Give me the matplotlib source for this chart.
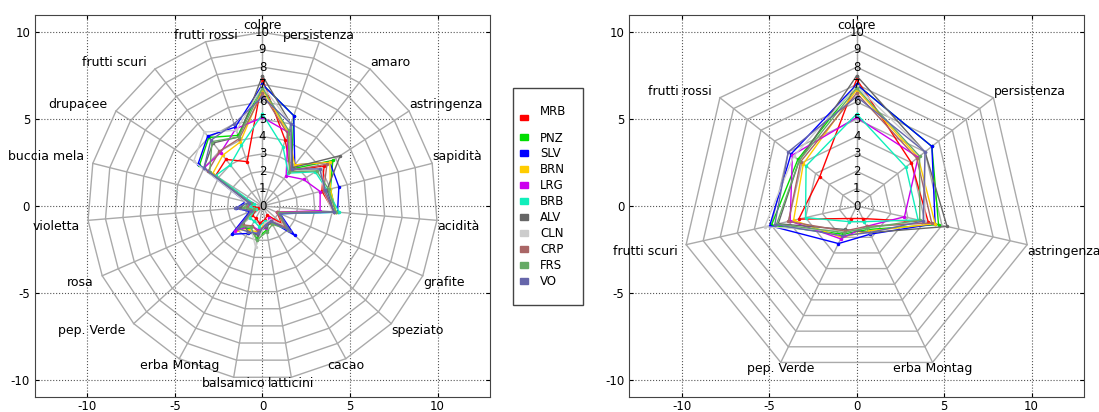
import numpy as np
import matplotlib
matplotlib.use('Agg')
import matplotlib.pyplot as plt
from matplotlib.patches import Patch, Rectangle

plt.rcParams['axes.unicode_minus'] = False
plt.rcParams['font.family'] = 'DejaVu Sans'

# attributes, clockwise from the top
attributes = ['colore', 'persistenza', 'amaro', 'astringenza', 'sapidità', 'acidità',
              'grafite', 'speziato', 'cacao', 'latticini', 'balsamico', 'erba Montag',
              'pep. Verde', 'rosa', 'violetta', 'buccia mela', 'drupacee',
              'frutti scuri', 'frutti rossi']
attributes_short = ['colore', 'persistenza', 'astringenza', 'erba Montag',
                    'pep. Verde', 'frutti scuri', 'frutti rossi']

wines = ['MRB', 'PNZ', 'SLV', 'BRN', 'LRG', 'BRB', 'ALV', 'CLN', 'CRP', 'FRS', 'VO']
colors = ['#ff0000', '#00dd00', '#0000ff', '#ffcc00', '#cc00ee', '#11eebb',
          '#666666', '#cccccc', '#aa6666', '#66aa66', '#6666aa']

MRB = [7.3, 4.0, 2.6, 4.2, 3.5, 4.1, 0.9, 1.5, 0.6, 0.8, 1.0, 0.8, 0.8, 0.3, 0.5, 0.8, 3.2, 3.4, 2.7]
PNZ = [7.0, 5.5, 2.7, 4.8, 4.0, 4.2, 1.0, 1.8, 0.9, 1.4, 1.9, 1.5, 1.8, 0.6, 1.0, 0.9, 4.3, 5.0, 4.3]
SLV = [7.0, 5.5, 3.0, 4.6, 4.5, 4.3, 1.1, 2.5, 1.0, 1.2, 1.6, 1.8, 2.4, 0.8, 1.5, 1.0, 4.4, 5.1, 4.8]
BRN = [6.7, 4.5, 3.0, 4.6, 4.0, 4.2, 1.0, 1.6, 1.2, 1.0, 1.5, 1.6, 2.0, 0.5, 0.8, 0.7, 3.4, 3.7, 3.9]
LRG = [5.1, 4.5, 2.2, 2.8, 3.4, 3.3, 0.9, 2.0, 0.8, 1.3, 1.4, 1.3, 2.1, 0.6, 0.9, 0.6, 4.0, 3.9, 4.7]
BRB = [5.3, 3.6, 2.4, 3.6, 3.8, 4.4, 1.1, 1.7, 1.0, 0.9, 1.2, 1.0, 1.0, 0.4, 0.7, 0.5, 3.2, 3.0, 3.7]
ALV = [7.5, 5.0, 2.8, 5.3, 3.8, 4.1, 1.0, 1.9, 1.1, 1.2, 1.7, 1.7, 1.5, 0.7, 1.3, 0.9, 4.0, 4.6, 4.2]
CLN = [6.9, 5.0, 2.5, 4.0, 3.6, 4.0, 1.0, 1.6, 0.9, 1.0, 2.4, 1.4, 1.6, 0.5, 1.0, 1.0, 4.7, 5.4, 4.6]
CRP = [6.5, 4.4, 2.6, 4.4, 3.6, 4.1, 0.9, 1.8, 1.0, 1.1, 1.5, 1.3, 1.6, 0.6, 0.9, 0.8, 3.7, 4.0, 4.1]
FRS = [6.8, 4.6, 2.5, 3.7, 3.9, 4.2, 1.0, 2.0, 1.2, 1.5, 2.0, 1.4, 1.7, 0.5, 1.1, 0.7, 3.6, 4.7, 4.2]
VO = [6.3, 5.0, 2.7, 3.9, 3.7, 4.1, 1.1, 2.1, 1.0, 1.1, 1.6, 1.7, 1.9, 0.7, 1.6, 0.8, 4.0, 4.8, 5.0]
series = [MRB, PNZ, SLV, BRN, LRG, BRB, ALV, CLN, CRP, FRS, VO]

rings = range(0, 11)
FS = 8.5


def radar(ax, labels, data):
    n = len(labels)
    ang = np.arange(n) * 2 * np.pi / n
    s, c = np.sin(ang), np.cos(ang)
    grid_col = '#aaaaaa'
    for r in rings[1:]:
        ax.plot(np.r_[s, s[0]] * r, np.r_[c, c[0]] * r, color=grid_col, lw=1, zorder=1)
    for i in range(n):
        ax.plot([0, 10 * s[i]], [0, 10 * c[i]], color=grid_col, lw=1, zorder=1)
    for r in rings:
        ax.text(0, r, str(r), ha='center', va='center', fontsize=FS, zorder=5)
    for i, lab in enumerate(labels):
        if s[i] > 0.5:
            ha, dx = 'left', 0
        elif s[i] < -0.5:
            ha, dx = 'right', -6
        else:
            ha, dx = 'center', 0
        va = 'bottom' if c[i] > 0.01 else 'top'
        ax.annotate(lab, (10 * s[i], 10 * c[i]), xytext=(dx, 0), textcoords='offset points',
                    ha=ha, va=va, fontsize=9, zorder=5)
    for vals, col in zip(data, colors):
        v = np.asarray(vals)
        ax.plot(np.r_[v * s, v[0] * s[0]], np.r_[v * c, v[0] * c[0]], color=col, lw=1,
                marker='.', ms=3, zorder=3)
    ax.set_xlim(-13, 13)
    ax.set_ylim(-11, 11)
    ax.set_xticks([-10, -5, 0, 5, 10])
    ax.set_yticks([-10, -5, 0, 5, 10])
    ax.grid(True, color='#555555', ls=':', lw=0.8)
    ax.set_axisbelow(True)
    ax.tick_params(direction='in', top=True, right=True, labelsize=FS, length=3)
    ax.tick_params(axis='x', pad=2)
    for sp in ax.spines.values():
        sp.set_color('#444444')


fig = plt.figure(figsize=(10.99, 4.12), dpi=100)
ax1 = fig.add_axes([0.0318, 0.0364, 0.4141, 0.9272])
ax2 = fig.add_axes([0.5726, 0.0364, 0.4138, 0.9272])

radar(ax1, attributes, series)
idx = [attributes.index(a) for a in attributes_short]
radar(ax2, attributes_short, [[s_[i] for i in idx] for s_ in series])

handles = [Patch(color=col) for col in colors]
labels = [w for w in wines]
labels[0] = 'MRB\n'
leg = fig.legend(handles, labels, loc='upper left', bbox_to_anchor=(0.4732, 0.745),
                 fontsize=FS, handlelength=0.7, handleheight=0.35, labelspacing=0.25,
                 borderpad=0, borderaxespad=0, handletextpad=1.0, frameon=False)
leg.get_texts()[0].set_linespacing(0.75)
fig.patches.append(Rectangle((513 / 1099, 1 - 305 / 412), 70 / 1099, 217 / 412,
                             transform=fig.transFigure, fill=False,
                             edgecolor='#444444', lw=1))

fig.savefig('out.png', dpi=100)
